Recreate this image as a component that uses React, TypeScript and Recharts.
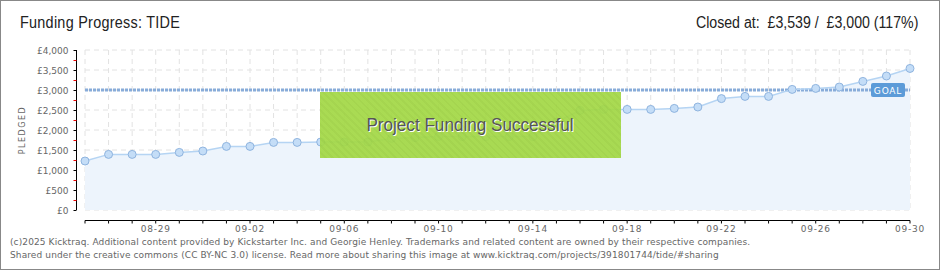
import React from 'react'
import { ComposedChart, Area, Line, XAxis, YAxis, CartesianGrid, ReferenceLine } from 'recharts'

const dates = [
  '08-26', '08-27', '08-28', '08-29', '08-30', '08-31',
  '09-01', '09-02', '09-03', '09-04', '09-05', '09-06', '09-07', '09-08', '09-09', '09-10',
  '09-11', '09-12', '09-13', '09-14', '09-15', '09-16', '09-17', '09-18', '09-19', '09-20',
  '09-21', '09-22', '09-23', '09-24', '09-25', '09-26', '09-27', '09-28', '09-29', '09-30',
]
const pledged = [
  1225, 1390, 1390, 1390, 1440, 1475,
  1590, 1590, 1690, 1690, 1700, 1700, 1700, 1790, 1810, 1835,
  1835, 1835, 1835, 1835, 2200, 2490, 2515, 2515, 2515, 2540,
  2575, 2785, 2840, 2840, 3015, 3040, 3075, 3215, 3350, 3539,
]
const xLabels = ['08-29', '09-02', '09-06', '09-10', '09-14', '09-18', '09-22', '09-26', '09-30']
const yTicks = [0, 500, 1000, 1500, 2000, 2500, 3000, 3500, 4000]
const goal = 3000

const data = dates.map((d, i) => ({ date: d, pledged: pledged[i] }))

const W = 940
const H = 270
const PLOT_LEFT = 85
const PLOT_RIGHT = 910
const PLOT_TOP = 50
const PLOT_BOTTOM = 210
const Y_W = 60
const X_H = 40

const tickFont = '"DejaVu Sans", sans-serif'
const headFont = '"Liberation Sans", Arial, sans-serif'

const fmt = (v: number) => '£' + v.toLocaleString('en-US')

function XTick(props: any) {
  const { x, y, payload, index } = props
  const step = (PLOT_RIGHT - PLOT_LEFT) / (dates.length - 1)
  const ay = y + 10.5
  return (
    <g>
      {index < dates.length - 1 && <line x1={x} x2={x + step} y1={ay} y2={ay} stroke="#000" />}
      <line x1={x} x2={x} y1={ay} y2={ay + 3} stroke="#000" />
      {xLabels.includes(payload.value) && (
        <text x={x} y={ay + 11} textAnchor="middle" fontSize={9} fill="#666" fontFamily={tickFont} letterSpacing={0.8}>
          {payload.value}
        </text>
      )}
    </g>
  )
}

function YTick(props: any) {
  const { x, y, payload } = props
  const step = (PLOT_BOTTOM - PLOT_TOP) / (yTicks.length - 1)
  const ax = x - 8.5
  return (
    <g>
      {payload.value > 0 && <line x1={ax} x2={ax} y1={y} y2={y + step} stroke="#000" />}
      <line x1={ax - 3} x2={ax} y1={y + 0.5} y2={y + 0.5} stroke="#000" />
      {payload.value > 0 && <line x1={ax - 3} x2={ax} y1={y + step / 2 + 0.5} y2={y + step / 2 + 0.5} stroke="#e00" />}
      <text x={ax - 8} y={y + 3.5} textAnchor="end" fontSize={9} fill="#666" fontFamily={tickFont}>
        {fmt(payload.value)}
      </text>
    </g>
  )
}

function GoalLabel(props: any) {
  const { viewBox } = props
  const right = viewBox.x + viewBox.width
  return (
    <g>
      <rect x={right - 39} y={viewBox.y - 7} width={34} height={14} rx={2} fill="#5c9bd8" />
      <text x={right - 22} y={viewBox.y + 3.5} textAnchor="middle" fontSize={9} fill="#fff" fontFamily={tickFont} letterSpacing={0.8}>
        GOAL
      </text>
    </g>
  )
}

export default function App() {
  return (
    <div style={{ position: 'absolute', left: 0, top: 0, width: W, height: H, background: '#fff', overflow: 'hidden' }}>
      <ComposedChart
        width={W}
        height={H}
        data={data}
        margin={{ top: PLOT_TOP, right: W - PLOT_RIGHT, left: PLOT_LEFT - Y_W, bottom: H - PLOT_BOTTOM - X_H }}
      >
        <CartesianGrid stroke="#e2e2e2" strokeDasharray="5 4" />
        <XAxis dataKey="date" interval={0} height={X_H} axisLine={false} tickLine={false} tickSize={0} tickMargin={0} tick={<XTick />} />
        <YAxis domain={[0, 4000]} ticks={yTicks} interval={0} width={Y_W} axisLine={false} tickLine={false} tickSize={0} tickMargin={0} tick={<YTick />} />
        <Area type="linear" dataKey="pledged" stroke="none" fill="#edf4fc" fillOpacity={1} isAnimationActive={false} />
        <ReferenceLine y={goal} stroke="#88acd9" strokeWidth={3} strokeDasharray="3 1" label={<GoalLabel />} />
        <Line
          type="linear"
          dataKey="pledged"
          stroke="#b5d4f3"
          strokeWidth={1.5}
          dot={{ r: 4, fill: '#c4ddf7', stroke: '#8fb4df', strokeWidth: 1 }}
          isAnimationActive={false}
        />
      </ComposedChart>

      <div
        style={{
          position: 'absolute', left: 20, top: 14, fontFamily: headFont, fontSize: 16, color: '#222',
          letterSpacing: 0.3, transform: 'scaleX(0.9)', transformOrigin: 'left center', whiteSpace: 'nowrap',
        }}
      >
        Funding Progress: TIDE
      </div>
      <div
        style={{
          position: 'absolute', right: 22, top: 14, fontFamily: headFont, fontSize: 16, color: '#222',
          transform: 'scaleX(0.885)', transformOrigin: 'right center', whiteSpace: 'nowrap',
        }}
      >
        Closed at:&nbsp; £3,539 / &nbsp;£3,000 (117%)
      </div>
      <div
        style={{
          position: 'absolute', left: 22, top: 130, transform: 'translate(-50%, -50%) rotate(-90deg)',
          fontFamily: tickFont, fontSize: 8, color: '#666', letterSpacing: 1.5, whiteSpace: 'nowrap',
        }}
      >
        PLEDGED
      </div>
      <div
        style={{
          position: 'absolute', left: 320, top: 92, width: 301, height: 66,
          background: 'repeating-linear-gradient(45deg, rgba(163,216,70,0.93) 0 3px, rgba(158,210,66,0.93) 3px 5px)',
          display: 'flex', alignItems: 'center', justifyContent: 'center',
        }}
      >
        <span
          style={{
            fontFamily: headFont, fontSize: 18, color: '#555', textShadow: '1px 1px 0 #fff',
            transform: 'scaleX(0.95)', whiteSpace: 'nowrap',
          }}
        >
          Project Funding Successful
        </span>
      </div>
      <div style={{ position: 'absolute', left: 10, top: 236, fontFamily: tickFont, fontSize: 9, color: '#666', lineHeight: '12.5px', whiteSpace: 'nowrap', letterSpacing: 0.11 }}>
        (c)2025 Kicktraq. Additional content provided by Kickstarter Inc. and Georgie Henley. Trademarks and related content are owned by their respective companies.
        <br />
        Shared under the creative commons (CC BY-NC 3.0) license. Read more about sharing this image at www.kicktraq.com/projects/391801744/tide/#sharing
      </div>
      <div style={{ position: 'absolute', left: 0, top: 0, width: W, height: H, boxSizing: 'border-box', border: '1px solid #888', pointerEvents: 'none' }} />
    </div>
  )
}
